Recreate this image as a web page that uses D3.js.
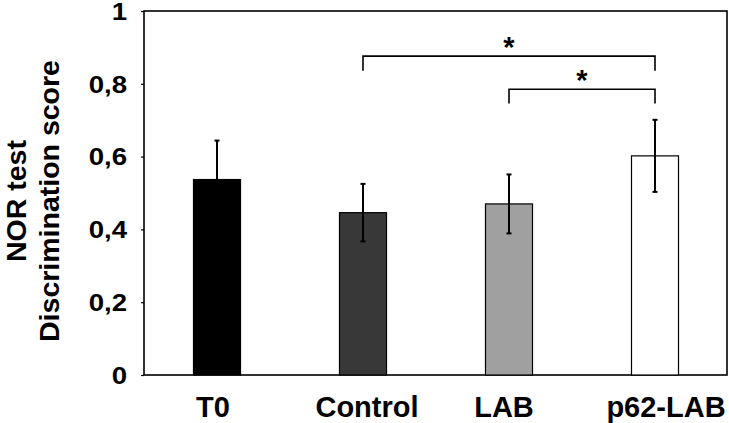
<!DOCTYPE html>
<html>
<head>
<meta charset="utf-8">
<script src="https://cdn.jsdelivr.net/npm/d3@7"></script>
<style>
  html, body { margin: 0; padding: 0; background: #fff; }
  svg { display: block; }
  text { font-family: "Liberation Sans", Arial, Helvetica, sans-serif; font-weight: bold; fill: #000; }
</style>
</head>
<body>
<svg id="chart" width="729" height="423"></svg>
<script>
// ---- data ----
const categories = ["T0", "Control", "LAB", "p62-LAB"];
const means = [0.537, 0.446, 0.470, 0.602];
const errors = [0.107, 0.079, 0.081, 0.099];
const fills = ["#000000", "#383838", "#a0a0a0", "#ffffff"];
const yTicks = [0, 0.2, 0.4, 0.6, 0.8, 1];
const yTitleLines = ["NOR test", "Discrimination score"];
// significance brackets
const brackets = [
  { from: "Control", to: "p62-LAB", level: 0.876, leg: 0.836, label: "*" },
  { from: "LAB", to: "p62-LAB", level: 0.785, leg: 0.746, label: "*" }
];

// layout (pixel nudges of the category labels, as typed in the original)
const labelNudge = { "T0": -4, "Control": 4, "LAB": -5, "p62-LAB": 11 };

const svg = d3.select("#chart");
const mLeft = 144, mRight = 728, mTop = 11, mBottom = 375;

const x = d3.scaleBand().domain(categories).range([mLeft, mRight])
  .paddingInner(0.678).paddingOuter(0.339);
const y = d3.scaleLinear().domain([0, 1]).range([mBottom, mTop]);

// frame
svg.append("rect")
  .attr("x", mLeft).attr("y", mTop)
  .attr("width", mRight - mLeft - 1).attr("height", mBottom - mTop)
  .attr("fill", "none").attr("stroke", "#000").attr("stroke-width", 1.6);

// bars
svg.selectAll("rect.bar").data(categories).enter().append("rect")
  .attr("class", "bar")
  .attr("x", d => x(d))
  .attr("y", (d, i) => y(means[i]))
  .attr("width", x.bandwidth())
  .attr("height", (d, i) => y(0) - y(means[i]))
  .attr("fill", (d, i) => fills[i])
  .attr("stroke", "#000").attr("stroke-width", 1.2);

// error bars
const eb = svg.append("g").attr("stroke", "#000").attr("stroke-width", 2);
categories.forEach((c, i) => {
  const cx = x(c) + x.bandwidth() / 2;
  eb.append("line").attr("x1", cx).attr("x2", cx)
    .attr("y1", y(means[i] - errors[i])).attr("y2", y(means[i] + errors[i]));
  [means[i] - errors[i], means[i] + errors[i]].forEach(v => {
    eb.append("line").attr("x1", cx - 2.5).attr("x2", cx + 2.5)
      .attr("y1", y(v)).attr("y2", y(v));
  });
});

// y axis
const yAxis = d3.axisLeft(y).tickValues(yTicks).tickSize(3).tickPadding(14)
  .tickFormat(d => d3.format("~g")(d).replace(".", ","));
const ga = svg.append("g").attr("transform", `translate(${mLeft},0)`).call(yAxis);
ga.select(".domain").remove();
ga.selectAll(".tick line").attr("stroke", "#000").attr("stroke-width", 1.2);
ga.selectAll(".tick text")
  .attr("font-size", 23)
  .attr("font-family", "Liberation Sans, Arial, sans-serif")
  .attr("font-weight", "bold")
  .attr("fill", "#000")
  .attr("x", -17 / 1.2)
  .attr("dy", "0.36em")
  .attr("transform", "scale(1.2,1)");

// x axis labels
const gx = svg.append("g").attr("transform", `translate(0,${mBottom})`)
  .call(d3.axisBottom(x).tickSize(0).tickPadding(0));
gx.select(".domain").remove();
gx.selectAll(".tick text")
  .attr("font-size", 29)
  .attr("font-family", "Liberation Sans, Arial, sans-serif")
  .attr("font-weight", "bold")
  .attr("fill", "#000")
  .attr("dy", 0)
  .attr("x", d => labelNudge[d])
  .attr("y", 41.5);

// y title
const yt = svg.append("text")
  .attr("transform", `translate(26,${(mTop + mBottom) / 2 + 8}) rotate(-90)`)
  .attr("text-anchor", "middle")
  .attr("font-size", 28.5);
yTitleLines.forEach((t, i) => {
  yt.append("tspan").attr("x", 0).attr("y", i * 33).text(t);
});

// significance brackets
const gb = svg.append("g");
brackets.forEach(b => {
  const x1 = x(b.from) + x.bandwidth() / 2;
  const x2 = x(b.to) + x.bandwidth() / 2;
  gb.append("path")
    .attr("d", `M${x1},${y(b.leg)}V${y(b.level)}H${x2}V${y(b.leg)}`)
    .attr("fill", "none").attr("stroke", "#000").attr("stroke-width", 1.6);
  gb.append("text")
    .attr("x", (x1 + x2) / 2)
    .attr("y", y(b.level) + 1)
    .attr("text-anchor", "middle")
    .attr("font-size", 29)
    .text(b.label);
});
</script>
</body>
</html>
